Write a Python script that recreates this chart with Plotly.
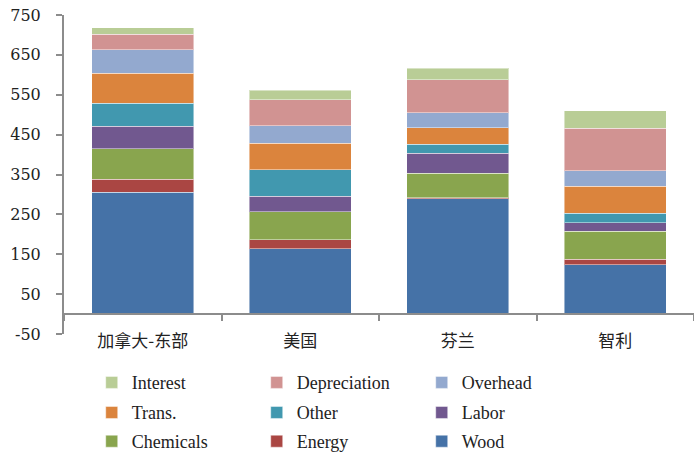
import plotly.graph_objects as go

# Cost breakdown per region (stacked, bottom to top)
regions = ["加拿大-东部", "美国", "芬兰", "智利"]

wood = [306, 164, 289, 124]
energy = [32, 23, 3, 14]
chemicals = [77, 69, 61, 70]
labor = [56, 39, 50, 21]
other = [58, 67, 23, 24]
trans = [75, 67, 41, 68]
overhead = [59, 43, 38, 38]
depreciation = [39, 65, 83, 107]
interest = [16, 24, 29, 44]

# (name, values, colour, legend row)
series = [
    ("Wood", wood, "#4572A7", "legend3"),
    ("Energy", energy, "#AA4643", "legend3"),
    ("Chemicals", chemicals, "#89A54E", "legend3"),
    ("Labor", labor, "#71588F", "legend2"),
    ("Other", other, "#4198AF", "legend2"),
    ("Trans.", trans, "#DB843D", "legend2"),
    ("Overhead", overhead, "#93A9CF", "legend"),
    ("Depreciation", depreciation, "#D19392", "legend"),
    ("Interest", interest, "#B9CD96", "legend"),
]

y_ticks = [-50, 50, 150, 250, 350, 450, 550, 650, 750]

axis_grey = "#8c8c8c"
serif = "DejaVu Serif"

fig = go.Figure()
for name, vals, color, leg in series:
    fig.add_trace(go.Bar(
        name=name, x=regions, y=vals, legend=leg,
        marker=dict(color=color, line=dict(color="rgba(255,255,255,0.45)", width=1)),
    ))

# helper trace so the zero-level category axis is drawn
fig.add_trace(go.Scatter(x=regions, y=[0, 0, 0, 0], xaxis="x2", mode="none",
                         showlegend=False, hoverinfo="skip"))

legend_style = dict(
    orientation="h", traceorder="reversed",
    x=0.044, xanchor="left", yanchor="middle",
    entrywidth=120, entrywidthmode="pixels",
    font=dict(family="Liberation Serif", size=18, color="#222222"),
    itemclick=False, bgcolor="rgba(0,0,0,0)",
)

fig.update_layout(
    width=694, height=460,
    margin=dict(l=64, r=0, t=15, b=125),
    barmode="stack",
    bargap=0.354,
    plot_bgcolor="white", paper_bgcolor="white",
    font=dict(family=serif, size=16, color="#222222"),
    xaxis=dict(
        type="category", range=[-0.5, 3.5],
        showline=False, ticks="", showgrid=False, zeroline=False,
        ticklabelstandoff=-5,
        tickfont=dict(family="Noto Sans CJK SC", size=17, color="#222222"),
    ),
    xaxis2=dict(
        type="category", overlaying="x", matches="x",
        anchor="free", position=50 / 800, side="bottom",
        showline=True, linecolor=axis_grey, linewidth=2,
        ticks="outside", tickson="boundaries", ticklen=6, tickcolor=axis_grey, tickwidth=2,
        showticklabels=False, showgrid=False, zeroline=False,
    ),
    yaxis=dict(
        range=[-50, 750], tickvals=y_ticks, ticktext=[str(v) for v in y_ticks],
        showline=True, linecolor=axis_grey, linewidth=2,
        ticks="outside", ticklen=6, tickcolor=axis_grey, tickwidth=2,
        showgrid=False, zeroline=False,
        ticklabelstandoff=12,
        tickfont=dict(family=serif, size=16, color="#222222"),
    ),
    legend=dict(legend_style, y=-0.149),
    legend2=dict(legend_style, y=-0.243),
    legend3=dict(legend_style, y=-0.338),
)

fig.write_html("out.html")
